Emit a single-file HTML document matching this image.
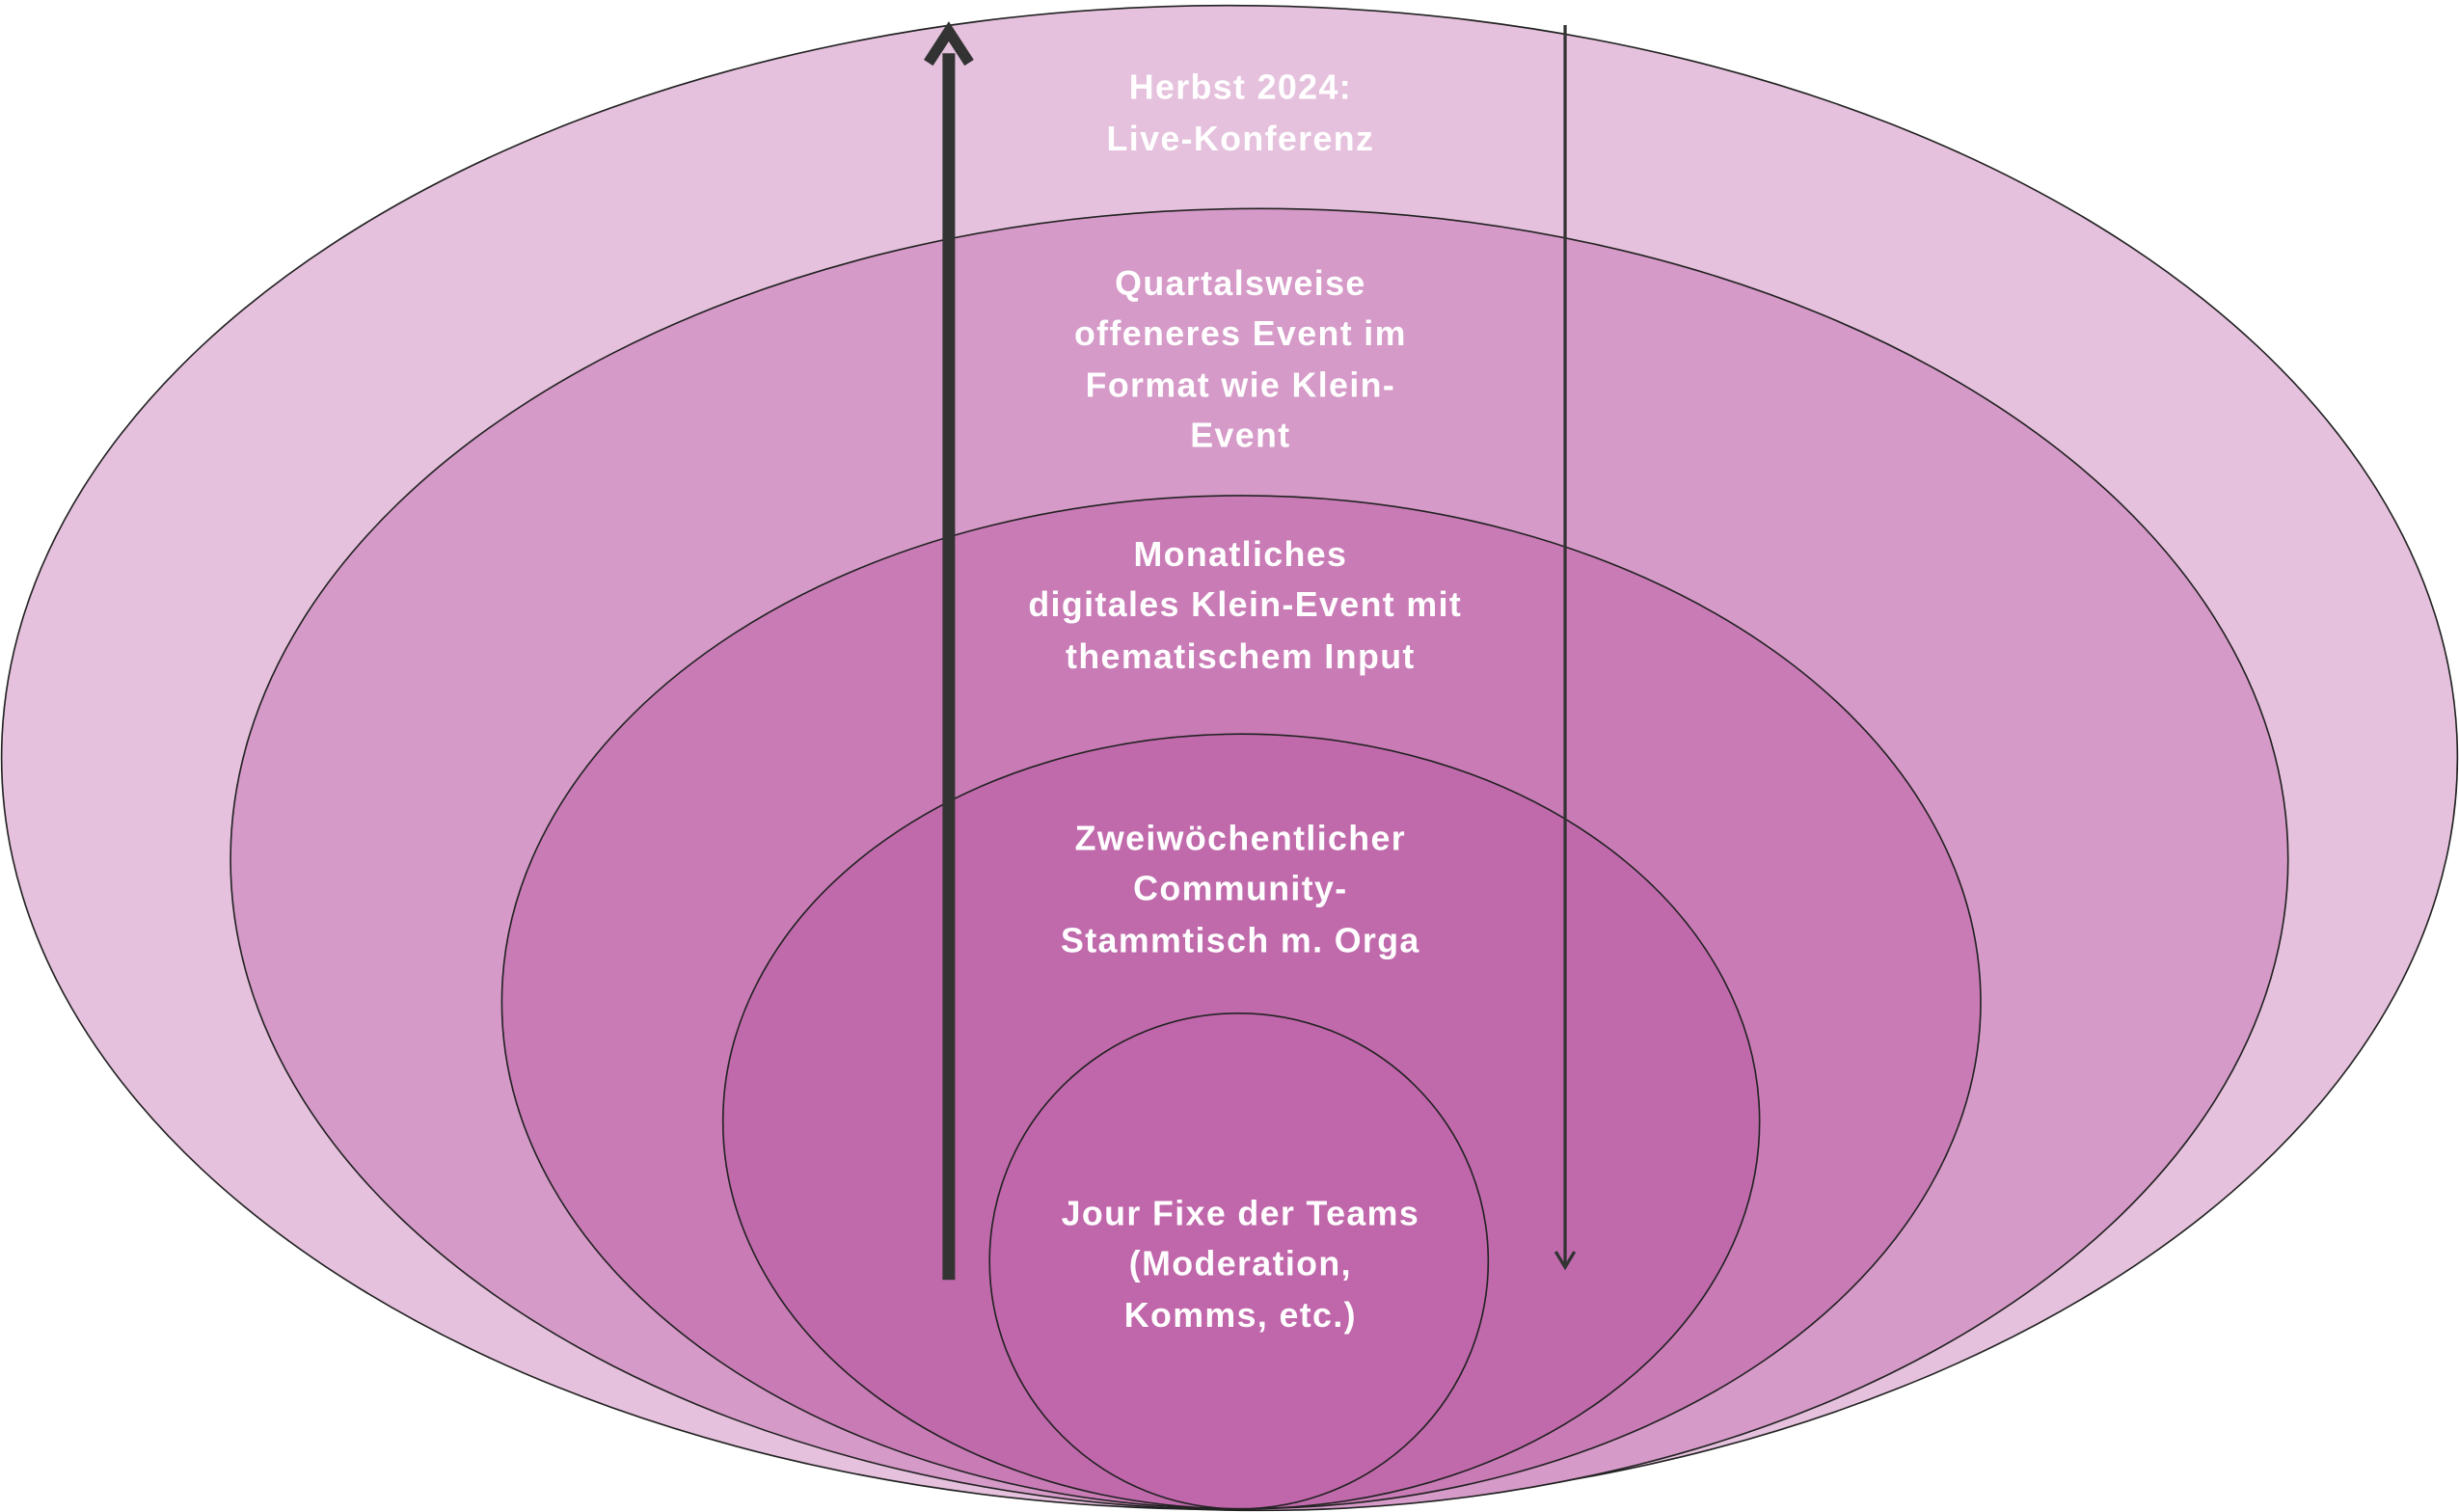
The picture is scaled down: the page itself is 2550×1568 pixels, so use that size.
<!DOCTYPE html>
<html><head><meta charset="utf-8"><style>
html,body{margin:0;padding:0;background:#fff;}
svg{display:block;}
text{font-family:"Liberation Sans",sans-serif;font-weight:bold;fill:#fff;font-size:22px;text-anchor:middle;letter-spacing:0.85px;}
</style></head><body>
<svg width="2550" height="1568" viewBox="0 0 1568 964" preserveAspectRatio="none">
<ellipse cx="784" cy="483" rx="783" ry="479.5" fill="#E5C1DD" stroke="#222" stroke-width="1"/>
<ellipse cx="803" cy="548" rx="656" ry="415" fill="#D59AC8" stroke="#222" stroke-width="1"/>
<ellipse cx="791.5" cy="639" rx="471.5" ry="323" fill="#C97BB6" stroke="#222" stroke-width="1"/>
<ellipse cx="791.5" cy="715" rx="330.5" ry="247" fill="#C06AAC" stroke="#222" stroke-width="1"/>
<ellipse cx="790" cy="804" rx="159" ry="158" fill="#C066AA" stroke="#222" stroke-width="1"/>
<line x1="605" y1="816" x2="605" y2="34" stroke="#333" stroke-width="8"/>
<polyline points="592,40 605,20 618,40" fill="none" stroke="#333" stroke-width="7" stroke-linejoin="miter"/>
<line x1="998" y1="16" x2="998" y2="806" stroke="#333" stroke-width="2"/>
<polyline points="992,798 998,808 1004,798" fill="none" stroke="#333" stroke-width="2"/>
<text x="791" y="63">Herbst 2024:</text>
<text x="791" y="96">Live-Konferenz</text>
<text x="791" y="188">Quartalsweise</text>
<text x="791" y="220">offeneres Event im</text>
<text x="791" y="253">Format wie Klein-</text>
<text x="791" y="285">Event</text>
<text x="791" y="361">Monatliches</text>
<text x="794" y="393">digitales Klein-Event mit</text>
<text x="791" y="426">thematischem Input</text>
<text x="791" y="542">Zweiwöchentlicher</text>
<text x="791" y="574">Community-</text>
<text x="791" y="607">Stammtisch m. Orga</text>
<text x="791" y="781">Jour Fixe der Teams</text>
<text x="791" y="813">(Moderation,</text>
<text x="791" y="846">Komms, etc.)</text>
</svg>
</body></html>
